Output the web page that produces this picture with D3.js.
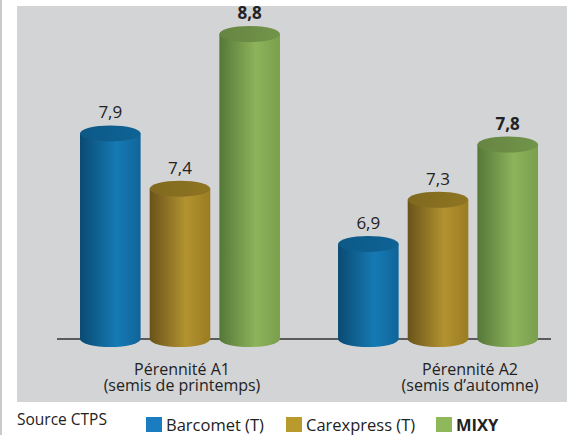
<!DOCTYPE html>
<html>
<head>
<meta charset="utf-8">
<script src="https://cdn.jsdelivr.net/npm/d3@7"></script>
<style>
  body { margin: 0; background: #fff; }
  svg { display: block; font-family: "Open Sans", sans-serif; }
</style>
</head>
<body>
<div id="chart"></div>
<script>
// data
var categories = ["Pérennité A1|(semis de printemps)", "Pérennité A2|(semis d\u2019automne)"];
var series = ["Barcomet (T)", "Carexpress (T)", "MIXY"];
var barcomet = [7.9, 6.9];
var carexpress = [7.4, 7.3];
var mixy = [8.8, 7.8];
var values = [barcomet, carexpress, mixy];

var width = 567, height = 435;
var baseY = 339;
var ry = 8;

// colours per series: [dark, light, mid, top, legend]
var colors = [
  ["#0a4a72", "#167ab4", "#106599", "#0e6395", "#1a7dc0"],
  ["#69531a", "#b39330", "#9a7c22", "#8f7522", "#b99a2d"],
  ["#557838", "#8db35b", "#7a9f4d", "#71944a", "#8fb85a"]
];

var svg = d3.select("#chart").append("svg")
    .attr("width", width)
    .attr("height", height);

var defs = svg.append("defs");
colors.forEach(function(c, i){
  var g = defs.append("linearGradient").attr("id", "body" + i)
      .attr("x1", 0).attr("x2", 1).attr("y1", 0).attr("y2", 0);
  g.append("stop").attr("offset", "0%").attr("stop-color", c[0]);
  g.append("stop").attr("offset", "60%").attr("stop-color", c[1]);
  g.append("stop").attr("offset", "100%").attr("stop-color", c[2]);
  var t = defs.append("linearGradient").attr("id", "top" + i)
      .attr("x1", 0).attr("x2", 1).attr("y1", 0).attr("y2", 0);
  t.append("stop").attr("offset", "0%").attr("stop-color", d3.color(c[3]).darker(0.3));
  t.append("stop").attr("offset", "100%").attr("stop-color", c[3]);
});

// outer frame
svg.append("rect").attr("x", 0).attr("y", 0).attr("width", 2).attr("height", height)
   .attr("fill", "#c9cacd");
svg.append("rect").attr("x", 17).attr("y", 6).attr("width", width - 17).attr("height", 396)
   .attr("fill", "#d3d4d6");

var x0 = d3.scaleBand().domain(categories).range([80, 538]).paddingInner(0.225);
var x1 = d3.scaleBand().domain(series).range([0, x0.bandwidth()]).paddingInner(0.13);
var y = d3.scaleLinear().domain([6.04, 8.8]).range([baseY, 34]);

// baseline
svg.append("line").attr("x1", 57).attr("x2", 551).attr("y1", baseY).attr("y2", baseY)
   .attr("stroke", "#333").attr("stroke-width", 1.5);

var bars = [];
categories.forEach(function(cat, ci){
  series.forEach(function(s, si){
    bars.push({cat: cat, s: s, si: si, v: values[si][ci]});
  });
});

var bw = x1.bandwidth(), rx = bw / 2;
var g = svg.selectAll(".bar").data(bars).enter().append("g").attr("class", "bar")
    .attr("transform", function(d){ return "translate(" + (x0(d.cat) + x1(d.s)) + ",0)"; });

g.append("path")
  .attr("d", function(d){
    var top = y(d.v);
    return "M0," + top + "L0," + baseY +
      "A" + rx + "," + ry + " 0 0 0 " + bw + "," + baseY +
      "L" + bw + "," + top + "Z";
  })
  .attr("fill", function(d){ return "url(#body" + d.si + ")"; });

g.append("ellipse")
  .attr("cx", rx).attr("cy", function(d){ return y(d.v); })
  .attr("rx", rx).attr("ry", ry)
  .attr("fill", function(d){ return "url(#top" + d.si + ")"; });

g.append("text")
  .attr("x", rx).attr("y", function(d){ return y(d.v) - 15; })
  .attr("text-anchor", "middle")
  .attr("font-size", 17)
  .attr("font-weight", function(d){ return d.si === 2 ? "bold" : "normal"; })
  .attr("fill", "#222")
  .text(function(d){ return d3.format(".1f")(d.v).replace(".", ","); });

// category labels
var labelShift = [2, 32];
categories.forEach(function(cat, ci){
  var cx = x0(cat) + x0.bandwidth() / 2 + labelShift[ci];
  cat.split("|").forEach(function(l, li){
    svg.append("text")
       .attr("x", cx).attr("y", 375 + li * 16)
       .attr("text-anchor", "middle")
       .attr("font-size", 16).attr("fill", "#222")
       .text(l);
  });
});

// legend
svg.append("text").attr("x", 17).attr("y", 425).attr("font-size", 15.5)
   .attr("fill", "#222").text("Source CTPS");
var legendX = [146, 286, 436];
series.forEach(function(s, si){
  svg.append("rect").attr("x", legendX[si]).attr("y", 417).attr("width", 16).attr("height", 15)
     .attr("fill", colors[si][4]);
  svg.append("text").attr("x", legendX[si] + 20).attr("y", 431)
     .attr("font-size", 16.5).attr("fill", "#222")
     .attr("font-weight", si === 2 ? "bold" : "normal")
     .text(s);
});
</script>
</body>
</html>
